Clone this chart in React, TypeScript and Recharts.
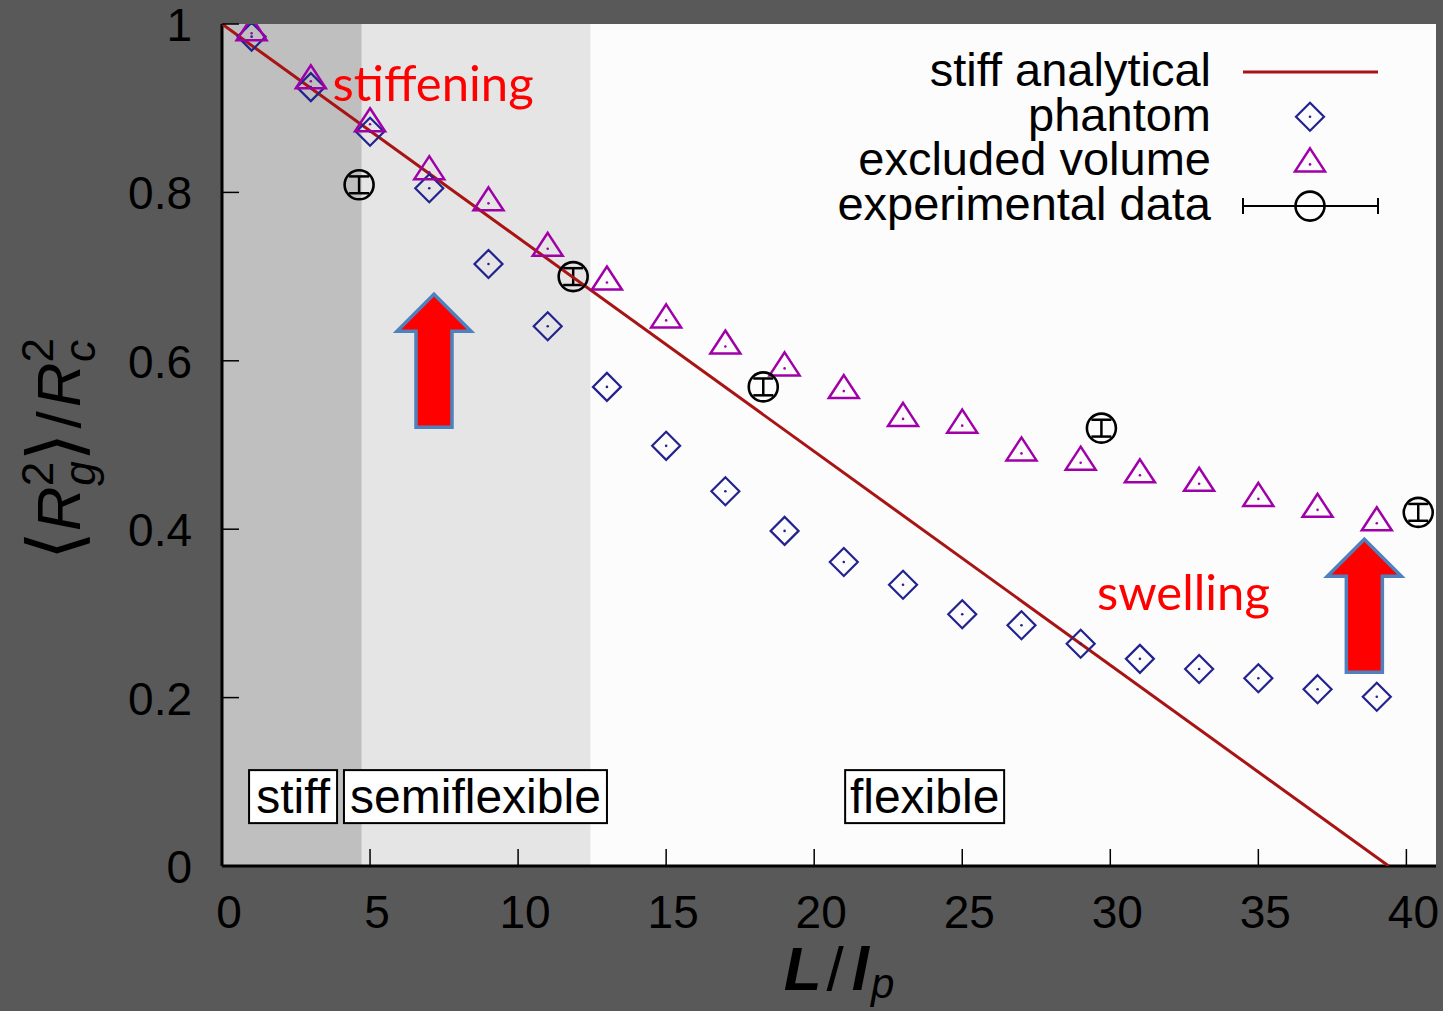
import React from 'react';
import {
  ComposedChart,
  Scatter,
  XAxis,
  YAxis,
  ReferenceArea,
  ReferenceDot,
  ErrorBar,
  Legend,
} from 'recharts';

// axis ticks
const xTicks = [0, 5, 10, 15, 20, 25, 30, 35, 40];
const yTicks = [0, 0.2, 0.4, 0.6, 0.8, 1];

// simulation chain lengths L/lp
const chainLength = [1, 3, 5, 7, 9, 11, 13, 15, 17, 19, 21, 23, 25, 27, 29, 31, 33, 35, 37, 39];
const phantomValues = [
  0.985, 0.925, 0.872, 0.805, 0.715, 0.641, 0.569, 0.499, 0.445, 0.398,
  0.361, 0.334, 0.299, 0.286, 0.264, 0.246, 0.234, 0.223, 0.21, 0.201,
];
const excludedValues = [
  0.989, 0.932, 0.881, 0.824, 0.787, 0.733, 0.693, 0.648, 0.617, 0.591,
  0.564, 0.531, 0.523, 0.49, 0.479, 0.464, 0.454, 0.436, 0.423, 0.407,
];

// experimental points
const expX = [4.63, 11.86, 18.28, 29.7, 40.4];
const expY = [0.809, 0.7, 0.569, 0.52, 0.42];
const expErr = [0.01, 0.01, 0.01, 0.01, 0.01];

// stiff analytical line
const analyticalX = [0, 39.4];
const analyticalY = [1, 0];

// regimes
const regionNames = ['stiff', 'semiflexible', 'flexible'];
const regionBounds = [0, 4.7, 12.43, 41];
const regionLabelX = [2.4, 8.56, 23.73];
const regionLabelY = 0.083;

const legendNames = ['stiff analytical', 'phantom', 'excluded volume', 'experimental data'];

const phantom = chainLength.map((x, i) => ({ x, y: phantomValues[i] }));
const excluded = chainLength.map((x, i) => ({ x, y: excludedValues[i] }));
const experimental = expX.map((x, i) => ({ x, y: expY[i], err: expErr[i] }));
const analytical = analyticalX.map((x, i) => ({ x, y: analyticalY[i] }));

const FONT = '"Liberation Sans", Arial, sans-serif';
const LINE_RED = '#a81414';
const NAVY = '#23238f';
const MAGENTA = '#a000a8';
const regionFills = ['#bfbfbf', '#e5e5e5', '#fcfcfc'];
const regionBoxW = [88, 263, 159];

const Diamond = ({ cx, cy }: any) => (
  <g>
    <polygon
      points={`${cx},${cy - 14} ${cx + 14},${cy} ${cx},${cy + 14} ${cx - 14},${cy}`}
      fill="none"
      stroke={NAVY}
      strokeWidth={2.2}
    />
    <circle cx={cx} cy={cy} r={1.3} fill={NAVY} />
  </g>
);

const Triangle = ({ cx, cy }: any) => (
  <g>
    <polygon
      points={`${cx},${cy - 16} ${cx + 15},${cy + 7} ${cx - 15},${cy + 7}`}
      fill="none"
      stroke={MAGENTA}
      strokeWidth={2.5}
    />
    <circle cx={cx} cy={cy} r={1.3} fill={MAGENTA} />
  </g>
);

const OpenCircle = ({ cx, cy }: any) => (
  <circle cx={cx} cy={cy} r={14.5} fill="none" stroke="#000" strokeWidth={2.6} />
);

const Arrow = ({ cx, cy }: any) => {
  const pts = [
    [0, 0], [37, 37], [18, 37], [18, 133], [-18, 133], [-18, 37], [-37, 37],
  ].map(([dx, dy]) => `${cx + dx},${cy + dy}`).join(' ');
  return <polygon points={pts} fill="#ff0000" stroke="#4f81bd" strokeWidth={3.5} strokeLinejoin="miter" />;
};

const RedNote = (text: string) => ({ cx, cy }: any) => (
  <text x={cx} y={cy} textAnchor="middle" fontFamily="Lato, sans-serif" fontSize={49} fill="#ff0000">
    {text}
  </text>
);

const RegionBox = (text: string, w: number) => ({ cx, cy }: any) => (
  <g>
    <rect x={cx - w / 2} y={cy - 26} width={w} height={53} fill="#fff" stroke="#000" strokeWidth={2} />
    <text x={cx} y={cy + 17} textAnchor="middle" fontFamily={FONT} fontSize={48} fill="#000">
      {text}
    </text>
  </g>
);

const BottomTick = ({ x, y, payload }: any) => (
  <g>
    <line x1={x} y1={y} x2={x} y2={y - 17} stroke="#000" strokeWidth={1.5} />
    <text x={x + 7} y={y + 62} textAnchor="middle" fontFamily={FONT} fontSize={46} fill="#000">
      {payload.value}
    </text>
  </g>
);

const TopTick = ({ x, y }: any) => (
  <line x1={x} y1={y} x2={x} y2={y + 17} stroke="#000" strokeWidth={1.5} />
);

const LeftTick = ({ x, y, payload }: any) => (
  <g>
    <line x1={x} y1={y} x2={x + 17} y2={y} stroke="#000" strokeWidth={1.5} />
    <text x={x - 30} y={y + 17} textAnchor="end" fontFamily={FONT} fontSize={46} fill="#000">
      {payload.value}
    </text>
  </g>
);

const RightTick = ({ x, y }: any) => (
  <line x1={x} y1={y} x2={x - 17} y2={y} stroke="#000" strokeWidth={1.5} />
);

const YLabel = ({ viewBox }: any) => {
  const cy = viewBox.y + viewBox.height / 2 + 4;
  return (
    <text transform={`translate(80, ${cy}) rotate(-90)`} textAnchor="middle" fontFamily={FONT} fontSize={62} fill="#000">
      <tspan fontFamily="DejaVu Sans" fontSize={74}>⟨</tspan>
      <tspan fontStyle="italic">R</tspan>
      <tspan fontSize={44} dy={-27}>2</tspan>
      <tspan fontSize={44} fontStyle="italic" dx={-24} dy={42}>g</tspan>
      <tspan fontFamily="DejaVu Sans" fontSize={74} dy={-15}>⟩</tspan>
      <tspan dx={4} fontWeight={200}>/</tspan>
      <tspan dx={4} fontStyle="italic">R</tspan>
      <tspan fontSize={44} dy={-27}>2</tspan>
      <tspan fontSize={44} fontStyle="italic" dx={-24} dy={42}>c</tspan>
    </text>
  );
};

const XLabel = ({ viewBox }: any) => {
  const cx = viewBox.x + viewBox.width / 2 + 10;
  return (
    <text x={cx} y={viewBox.y + 124} textAnchor="middle" fontFamily={FONT} fontSize={62} fill="#000">
      <tspan fontStyle="italic" fontWeight="bold">L</tspan>
      <tspan dx={5}>/</tspan>
      <tspan dx={8} fontStyle="italic" fontWeight="bold">l</tspan>
      <tspan dx={2} fontStyle="italic" fontSize={42} dy={8}>p</tspan>
    </text>
  );
};

const LegendBox = () => (
  <svg width={620} height={200} style={{ overflow: 'visible' }}>
    {legendNames.map((name, i) => {
      const cy = 32 + i * 44.7;
      let sample: React.ReactNode = null;
      if (i === 0) sample = <line x1={443} y1={cy} x2={578} y2={cy} stroke={LINE_RED} strokeWidth={3} />;
      if (i === 1) sample = <Diamond cx={510} cy={cy} />;
      if (i === 2) sample = <Triangle cx={510} cy={cy + 3} />;
      if (i === 3)
        sample = (
          <g stroke="#000" strokeWidth={2}>
            <line x1={443} y1={cy} x2={578} y2={cy} />
            <line x1={443} y1={cy - 8} x2={443} y2={cy + 8} />
            <line x1={578} y1={cy - 8} x2={578} y2={cy + 8} />
            <circle cx={510} cy={cy} r={14.5} fill="none" strokeWidth={2.6} />
          </g>
        );
      return (
        <g key={name}>
          <text x={411} y={cy + 14} textAnchor="end" fontFamily={FONT} fontSize={47} fill="#000">
            {name}
          </text>
          {sample}
        </g>
      );
    })}
  </svg>
);

export default function App() {
  return (
    <div style={{ position: 'absolute', left: 0, top: 0, width: 1443, height: 1011, background: '#595959' }}>
      <ComposedChart width={1443} height={1011} margin={{ top: 24, right: 7, bottom: 0, left: 0 }}>
        <XAxis
          type="number"
          dataKey="x"
          domain={[0, 41]}
          ticks={xTicks}
          interval={0}
          allowDataOverflow
          height={145}
          tickSize={0}
          tickMargin={0}
          tickLine={false}
          tick={<BottomTick />}
          axisLine={{ stroke: '#000', strokeWidth: 3 }}
          label={<XLabel />}
        />
        <XAxis
          xAxisId="top"
          orientation="top"
          type="number"
          dataKey="x"
          domain={[0, 41]}
          ticks={xTicks}
          interval={0}
          allowDataOverflow
          height={0}
          tickSize={0}
          tickMargin={0}
          tickLine={false}
          tick={<TopTick />}
          axisLine={{ stroke: '#000', strokeWidth: 3 }}
        />
        <YAxis
          type="number"
          dataKey="y"
          domain={[0, 1]}
          ticks={yTicks}
          interval={0}
          allowDataOverflow
          width={222}
          tickSize={0}
          tickMargin={0}
          tickLine={false}
          tick={<LeftTick />}
          axisLine={{ stroke: '#000', strokeWidth: 3 }}
          label={<YLabel />}
        />
        <YAxis
          yAxisId="right"
          orientation="right"
          type="number"
          dataKey="y"
          domain={[0, 1]}
          ticks={yTicks}
          interval={0}
          allowDataOverflow
          width={0}
          tickSize={0}
          tickMargin={0}
          tickLine={false}
          tick={<RightTick />}
          axisLine={{ stroke: '#000', strokeWidth: 4 }}
        />

        {regionNames.map((name, i) => (
          <ReferenceArea
            key={name}
            x1={regionBounds[i]}
            x2={regionBounds[i + 1]}
            y1={0}
            y2={1}
            fill={regionFills[i]}
            fillOpacity={1}
            stroke="none"
          />
        ))}

        <Legend
          layout="horizontal"
          verticalAlign="middle"
          align="center"
          content={<LegendBox />}
          wrapperStyle={{ left: 800, top: 40, width: 620, height: 200 }}
        />

        <Scatter
          name="stiff analytical"
          data={analytical}
          line={{ stroke: LINE_RED, strokeWidth: 3 }}
          shape={() => <g />}
          isAnimationActive={false}
        />
        <Scatter name="phantom" data={phantom} shape={<Diamond />} isAnimationActive={false} />
        <Scatter name="excluded volume" data={excluded} shape={<Triangle />} isAnimationActive={false} />
        <Scatter name="experimental data" data={experimental} shape={<OpenCircle />} isAnimationActive={false}>
          <ErrorBar dataKey="err" direction="y" width={10} stroke="#000" strokeWidth={2.5} />
        </Scatter>

        {regionNames.map((name, i) => (
          <ReferenceDot
            key={'lbl' + name}
            x={regionLabelX[i]}
            y={regionLabelY}
            r={0}
            shape={RegionBox(name, regionBoxW[i])}
          />
        ))}

        <ReferenceDot x={7.13} y={0.908} r={0} shape={RedNote('stiffening')} />
        <ReferenceDot x={32.47} y={0.304} r={0} shape={RedNote('swelling')} />
        <ReferenceDot x={7.16} y={0.679} r={0} shape={Arrow} />
        <ReferenceDot x={38.58} y={0.388} r={0} shape={Arrow} />
      </ComposedChart>
    </div>
  );
}
